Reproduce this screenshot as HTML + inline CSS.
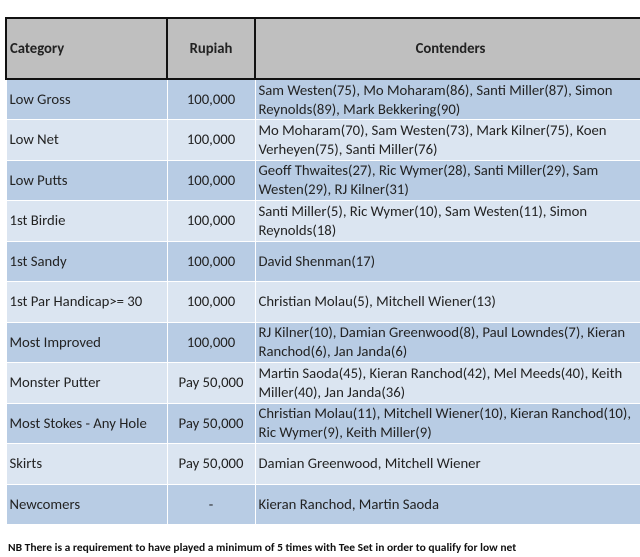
<!DOCTYPE html>
<html><head><meta charset="utf-8"><style>
body{margin:0;width:640px;height:557px;background:#fff;position:relative;overflow:hidden;font-family:Calibri,Carlito,"Liberation Sans",sans-serif;}
table{position:absolute;left:5px;top:17px;border-collapse:collapse;table-layout:fixed;width:640px;font-size:14.7px;color:#222;}
td{padding:0 3px;height:40.5px;box-sizing:border-box;border:1px solid #fff;line-height:19px;vertical-align:middle;white-space:nowrap;}
tr.h td{background:#bfbfbf;border:2px solid #111;font-weight:bold;height:61px;}
tr.d td{background:#b8cce4;}
tr.l td{background:#dbe5f1;}
td.c{text-align:center;}
.n{position:absolute;left:8px;top:541px;font-size:11.5px;font-weight:bold;color:#111;white-space:nowrap;}
</style></head><body>
<table>
<colgroup><col style="width:161px"><col style="width:88px"><col style="width:391px"></colgroup>
<tr class="h"><td>Category</td><td class="c">Rupiah</td><td class="c">Contenders</td></tr>
<tr class="d"><td>Low Gross</td><td class="c">100,000</td><td>Sam Westen(75), Mo Moharam(86), Santi Miller(87), Simon<br>Reynolds(89), Mark Bekkering(90)</td></tr>
<tr class="l"><td>Low Net</td><td class="c">100,000</td><td>Mo Moharam(70), Sam Westen(73), Mark Kilner(75), Koen<br>Verheyen(75), Santi Miller(76)</td></tr>
<tr class="d"><td>Low Putts</td><td class="c">100,000</td><td>Geoff Thwaites(27), Ric Wymer(28), Santi Miller(29), Sam<br>Westen(29), RJ Kilner(31)</td></tr>
<tr class="l"><td>1st Birdie</td><td class="c">100,000</td><td>Santi Miller(5), Ric Wymer(10), Sam Westen(11), Simon<br>Reynolds(18)</td></tr>
<tr class="d"><td>1st Sandy</td><td class="c">100,000</td><td>David Shenman(17)</td></tr>
<tr class="l"><td>1st Par Handicap&gt;= 30</td><td class="c">100,000</td><td>Christian Molau(5), Mitchell Wiener(13)</td></tr>
<tr class="d"><td>Most Improved</td><td class="c">100,000</td><td>RJ Kilner(10), Damian Greenwood(8), Paul Lowndes(7), Kieran<br>Ranchod(6), Jan Janda(6)</td></tr>
<tr class="l"><td>Monster Putter</td><td class="c">Pay 50,000</td><td>Martin Saoda(45), Kieran Ranchod(42), Mel Meeds(40), Keith<br>Miller(40), Jan Janda(36)</td></tr>
<tr class="d"><td>Most Stokes - Any Hole</td><td class="c">Pay 50,000</td><td>Christian Molau(11), Mitchell Wiener(10), Kieran Ranchod(10),<br>Ric Wymer(9), Keith Miller(9)</td></tr>
<tr class="l"><td>Skirts</td><td class="c">Pay 50,000</td><td>Damian Greenwood, Mitchell Wiener</td></tr>
<tr class="d"><td>Newcomers</td><td class="c">-</td><td>Kieran Ranchod, Martin Saoda</td></tr>
</table>
<div class="n">NB There is a requirement to have played a minimum of 5 times with Tee Set in order to qualify for low net</div>
</body></html>
